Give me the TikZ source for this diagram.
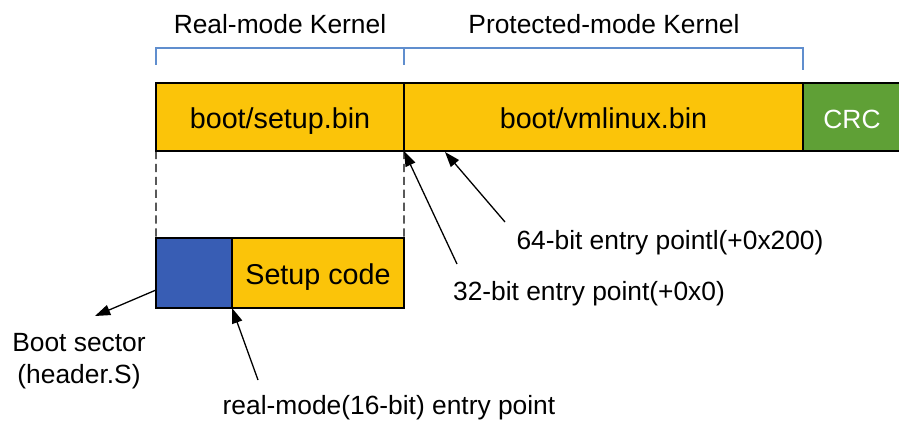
\documentclass[tikz,border=0pt]{standalone}
\usepackage{fontspec}
\setmainfont{Liberation Sans}
\usetikzlibrary{arrows.meta}
\definecolor{binyellow}{RGB}{251,196,9}
\definecolor{sectblue}{RGB}{56,93,180}
\definecolor{crcgreen}{RGB}{95,160,54}
\definecolor{bracketblue}{RGB}{96,142,206}
\begin{document}
\begin{tikzpicture}[>={Triangle[length=13pt,width=9pt]}, x=0.03cm, y=-0.03cm,
	binbox/.style={rectangle, draw, line width=1.4pt, inner sep=0pt, outer sep=0pt, text height=20pt, text depth=0pt, font=\fontsize{24.5pt}{29pt}\selectfont},
	lbl/.style={inner sep=0pt, font=\fontsize{22.5pt}{27pt}\selectfont},
	pointer/.style={->, line width=1.1pt}]
	\useasboundingbox (0,0) rectangle (899,431);

	\node (setup)		at (280,117) [binbox, fill=binyellow, minimum width=7.44cm, minimum height=2.04cm] {boot/setup.bin};
	\node (vmlinux)		at (603.5,117) [binbox, fill=binyellow, minimum width=11.97cm, minimum height=2.04cm] {boot/vmlinux.bin};
	\node (crc)			at (852,117) [binbox, fill=crcgreen, text=white, font=\fontsize{22.5pt}{27pt}\selectfont, minimum width=2.94cm, minimum height=2.04cm] {CRC};

	\node (bootsec)		at (194,273) [binbox, fill=sectblue, minimum width=2.28cm, minimum height=2.1cm] {};
	\node (setupcode)	at (318,273) [binbox, fill=binyellow, minimum width=5.16cm, minimum height=2.1cm] {Setup code};

	% brackets over the two kernels
	\draw[bracketblue, line width=1.1pt] (156,65) |- (404,48) -| (803,70);
	\draw[bracketblue, line width=1.1pt] (404,48) -- (404,65);
	\node (realk)		at (280,24) [lbl] {Real-mode Kernel};
	\node (protk)		at (604,24) [lbl] {Protected-mode Kernel};

	\draw[dashed, line width=1.1pt, dash pattern=on 7pt off 4pt] (setup.south west) -- (bootsec.north west);
	\draw[dashed, line width=1.1pt, dash pattern=on 7pt off 4pt] (setup.south east) -- (setupcode.north east);

	\node (lbl64)		at (670,243) [lbl] {64-bit entry pointl(+0x200)};
	\node (lbl32)		at (589,294) [lbl] {32-bit entry point(+0x0)};
	\node (lblboot)		at (79,361) [lbl, align=center] {Boot sector\\(header.S)};
	\node (lblreal)		at (389,408) [lbl] {real-mode(16-bit) entry point};

	\coordinate (tail64) at (505,222);
	\coordinate (tail32) at (457,264);
	\coordinate (tailreal) at (258,380);
	\coordinate (tailboot) at (156,290);
	\coordinate (head64) at (445,152);
	\coordinate (headboot) at (95,316);

	\path (tail64)		edge[pointer] (head64)
		(tail32)			edge[pointer] (setup.south east)
		(tailreal)			edge[pointer] (bootsec.south east)
		(tailboot)			edge[pointer] (headboot);
\end{tikzpicture}
\end{document}
